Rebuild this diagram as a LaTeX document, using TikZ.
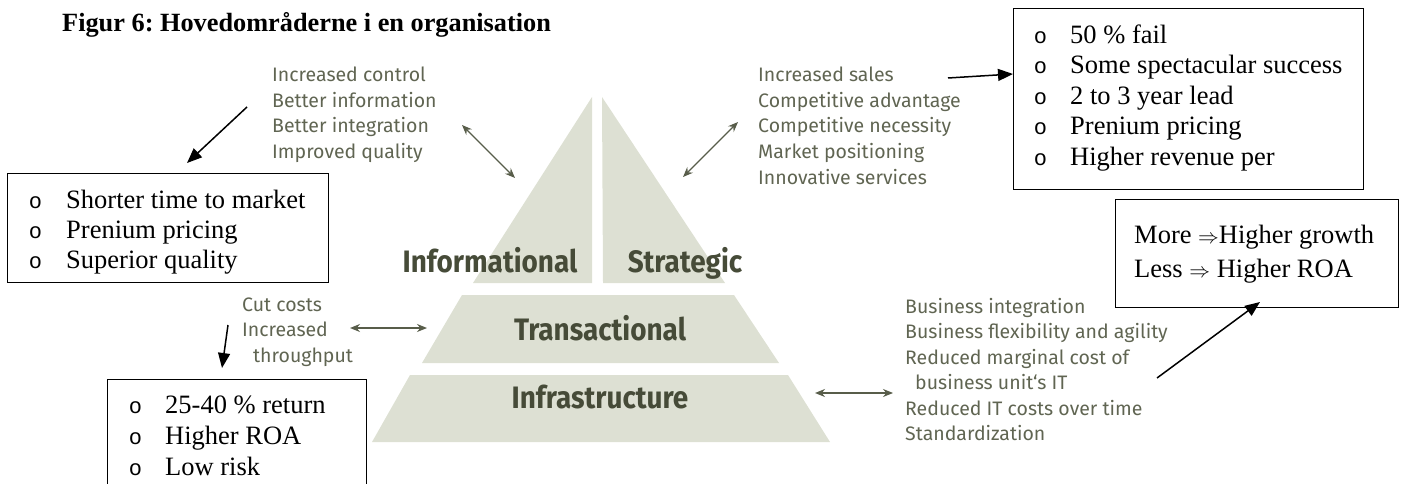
\documentclass[tikz,border=0pt]{standalone}
\usepackage{fontspec}
\setmainfont{Liberation Serif}
\newfontfamily\gsans{Fira Sans}
\newfontfamily\bmono{Liberation Mono}
\usetikzlibrary{arrows.meta}
\definecolor{pgreen}{RGB}{96,101,82}
\definecolor{plabel}{RGB}{70,75,56}
\definecolor{parrow}{RGB}{88,93,74}
\definecolor{pfill}{RGB}{221,224,211}
\frenchspacing
\begin{document}
\begin{tikzpicture}[x=1pt,y=-1pt,
  gtext/.style={anchor=base west, inner sep=0pt, text=pgreen, font=\gsans\fontsize{19.5}{24}\selectfont},
  btext/.style={anchor=base west, inner sep=0pt, font=\fontsize{26.5}{30}\selectfont},
  bul/.style={anchor=base, inner sep=0pt, font=\bmono\fontsize{22}{26}\selectfont},
  plab/.style={anchor=base, inner sep=0pt, text=plabel, font=\gsans\bfseries\fontsize{31}{34}\selectfont},
  boxr/.style={draw=black, line width=1.2pt, anchor=north west, inner sep=0pt},
  blackarrow/.style={-{Triangle[length=15pt,width=12pt]}, line width=1.5pt},
  pyarrow/.style={{Stealth[length=10pt,width=8pt]}-{Stealth[length=10pt,width=8pt]}, line width=1.3pt, draw=parrow},
  tier/.style={fill=pfill, draw=none}]
\useasboundingbox (0,0) rectangle (1413,484);

% title
\node[anchor=base west, inner sep=0pt, font=\bfseries\fontsize{26.3}{30}\selectfont] (title) at (62,32) {Figur 6: Hovedområderne i en organisation};

% pyramid
\path[tier] (592,97) -- (592,283) -- (473,283) -- cycle;
\path[tier] (602,97) -- (725,283) -- (603,283) -- cycle;
\path[tier] (462,295) -- (734,295) -- (779,363) -- (422,363) -- cycle;
\path[tier] (410,375) -- (788,375) -- (830,442) -- (372,442) -- cycle;

\node[plab] (info) at (490,272) {\scalebox{0.9}[1]{Informational}};
\node[plab] (strat) at (685,272) {\scalebox{0.9}[1]{Strategic}};
\node[plab] (trans) at (600,340) {\scalebox{0.9}[1]{Transactional}};
\node[plab] (infra) at (600,408) {\scalebox{0.9}[1]{Infrastructure}};

% green texts
\node[gtext] (tl1) at (272,82) {Increased control};
\node[gtext] (tl2) at (272,107.5) {Better information};
\node[gtext] (tl3) at (272,133) {Better integration};
\node[gtext] (tl4) at (272,158.5) {Improved quality};

\node[gtext] (tr1) at (758,82) {Increased sales};
\node[gtext] (tr2) at (758,107.5) {Competitive advantage};
\node[gtext] (tr3) at (758,133) {Competitive necessity};
\node[gtext] (tr4) at (758,158.5) {Market positioning};
\node[gtext] (tr5) at (758,184) {Innovative services};

\node[gtext] (cc1) at (242,311) {Cut costs};
\node[gtext] (cc2) at (242,336.5) {Increased};
\node[gtext] (cc3) at (253,362) {throughput};

\node[gtext] (br1) at (905,313) {Business integration};
\node[gtext] (br2) at (905,338.5) {Business flexibility and agility};
\node[gtext] (br3) at (905,364) {Reduced marginal cost of};
\node[gtext] (br4) at (915,389.5) {business unit‘s IT};
\node[gtext] (br5) at (905,415) {Reduced IT costs over time};
\node[gtext] (br6) at (905,440.5) {Standardization};

% pyramid arrows
\coordinate (p1a) at (462,125); \coordinate (p1b) at (515,178);
\coordinate (p2a) at (683,177); \coordinate (p2b) at (738,122);
\coordinate (p3a) at (350,328); \coordinate (p3b) at (427,328);
\coordinate (p4a) at (815,393); \coordinate (p4b) at (893,393);
\draw[pyarrow] (p1a) -- (p1b);
\draw[pyarrow] (p2a) -- (p2b);
\draw[pyarrow] (p3a) -- (p3b);
\draw[pyarrow] (p4a) -- (p4b);

% boxes
\node[boxr, minimum width=321pt, minimum height=109pt] (box1) at (7,173) {};
\node[bul] (b1a) at (35.5,208) {o};
\node[bul] (b1b) at (35.5,238) {o};
\node[bul] (b1c) at (35.5,268) {o};
\node[btext] (t1a) at (66,208) {Shorter time to market};
\node[btext] (t1b) at (66,238) {Prenium pricing};
\node[btext] (t1c) at (66,268) {Superior quality};

\node[boxr, minimum width=259pt, minimum height=130pt] (box2) at (107,379) {};
\node[bul] (b2a) at (135.5,413.5) {o};
\node[bul] (b2b) at (135.5,444.5) {o};
\node[bul] (b2c) at (135.5,475) {o};
\node[btext] (t2a) at (165,413.5) {25-40 \% return};
\node[btext] (t2b) at (165,444.5) {Higher ROA};
\node[btext] (t2c) at (165,475) {Low risk};

\node[boxr, minimum width=350pt, minimum height=181pt] (box3) at (1013,8) {};
\node[bul] (b3a) at (1040.5,43.5) {o};
\node[bul] (b3b) at (1040.5,74) {o};
\node[bul] (b3c) at (1040.5,104.5) {o};
\node[bul] (b3d) at (1040.5,135) {o};
\node[bul] (b3e) at (1040.5,165.5) {o};
\node[btext] (t3a) at (1070,43.5) {50 \% fail};
\node[btext] (t3b) at (1070,74) {Some spectacular success};
\node[btext] (t3c) at (1070,104.5) {2 to 3 year lead};
\node[btext] (t3d) at (1070,135) {Prenium pricing};
\node[btext] (t3e) at (1070,165.5) {Higher revenue per};

\node[boxr, minimum width=283pt, minimum height=108pt] (box4) at (1115,199) {};
\node[btext] (t4a) at (1134,243) {More {\fontsize{20}{20}\selectfont$\Rightarrow$}Higher growth};
\node[btext] (t4b) at (1134,277) {Less {\fontsize{20}{20}\selectfont$\Rightarrow$} Higher ROA};

% black arrows
\coordinate (a1s) at (247,107); \coordinate (a1e) at (187,163);
\coordinate (a2s) at (228,325); \coordinate (a2e) at (222,368);
\coordinate (a3s) at (948,78);  \coordinate (a3e) at (1013,74);
\coordinate (a4s) at (1157,378); \coordinate (a4e) at (1260,302);
\draw[blackarrow] (a1s) -- (a1e);
\draw[blackarrow] (a2s) -- (a2e);
\draw[blackarrow] (a3s) -- (a3e);
\draw[blackarrow] (a4s) -- (a4e);
\end{tikzpicture}
\end{document}
